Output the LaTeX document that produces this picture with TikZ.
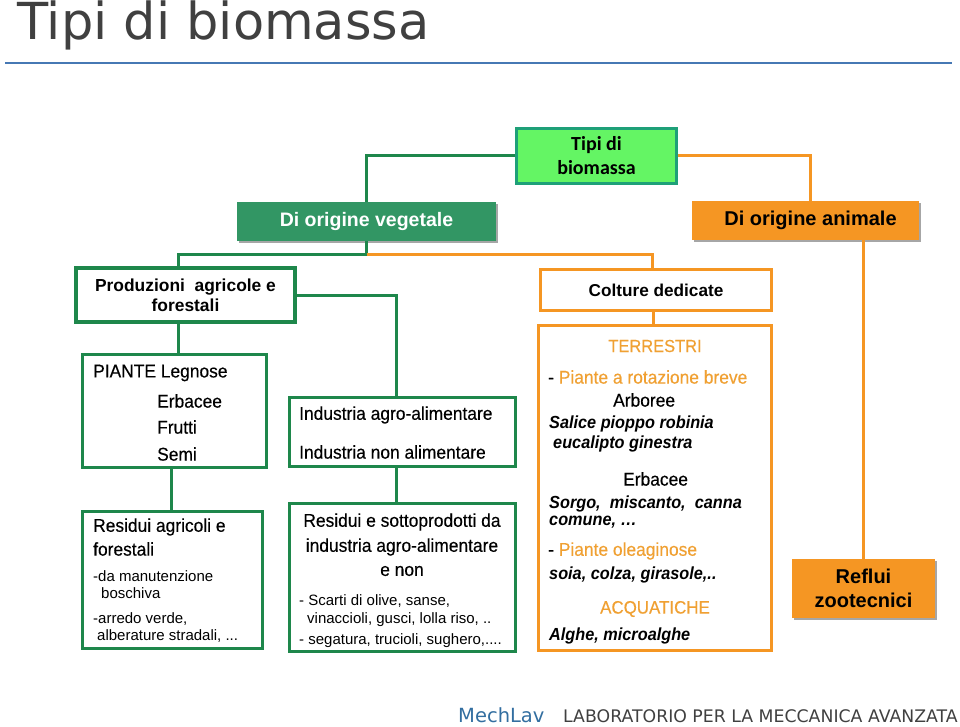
\documentclass[tikz,border=0pt]{standalone}
\usepackage{fontspec}
\setmainfont{Liberation Sans}
\newfontfamily\verdana{DejaVu Sans}
\newfontfamily\calib{Carlito}
\newfontfamily\nar[FakeStretch=0.94,FakeBold=0.3]{Liberation Sans}
\newfontfamily\nbi[FakeStretch=0.93]{Liberation Sans}
\usetikzlibrary{shadows}
\newcommand\fsz[2][]{\fontsize{#2}{#2}\selectfont}

\definecolor{gr}{RGB}{30,135,75}
\definecolor{vegfill}{RGB}{50,150,100}
\definecolor{topfill}{RGB}{100,245,100}
\definecolor{topline}{RGB}{30,160,120}
\definecolor{orng}{RGB}{245,150,35}
\definecolor{otxt}{RGB}{240,160,50}
\definecolor{ttl}{RGB}{64,64,64}
\definecolor{rulec}{RGB}{70,120,180}
\definecolor{mech}{RGB}{50,110,160}

\begin{document}
\begin{tikzpicture}[x=1pt,y=-1pt,
	gline/.style={draw=gr,line width=3pt},
	oline/.style={draw=orng,line width=3pt},
	gbox/.style={draw=gr,line width=3pt,fill=white,inner sep=0pt},
	obox/.style={draw=orng,line width=3pt,fill=white,inner sep=0pt},
	sbox/.style={inner sep=0pt,align=center,
		drop shadow={shadow xshift=2pt,shadow yshift=-2pt,opacity=.35,fill=black}},
	txt/.style={anchor=west,inner sep=0pt,font=\nar\fsz{18.5}},
	small/.style={anchor=west,inner sep=0pt,font=\fsz{15}},
	ital/.style={anchor=west,inner sep=0pt,font=\nbi\bfseries\itshape\fsz{17.5}}]
	\useasboundingbox (0,0) rectangle (960,727);
	\node[anchor=base west,inner sep=0pt,text=ttl,font=\verdana\fsz{51}] (title) at (17,40) {Tipi di biomassa};
	\draw[rulec,line width=1.5pt] (5,63) -- (952,63);

	\node[draw=topline,fill=topfill,line width=3pt,minimum width=160pt,minimum height=55pt,
		inner sep=0pt,align=center,font=\calib\bfseries\fontsize{20}{24}\selectfont] (top) at (596.5,156) {Tipi di\\biomassa};
	\node[sbox,fill=vegfill,text=white,minimum width=259pt,minimum height=39pt,
		font=\bfseries\fsz{19.5}] (veg) at (366.5,221.5) {Di origine vegetale};
	\node[sbox,fill=orng,minimum width=227pt,minimum height=39pt,
		font=\bfseries\fsz{20}] (ani) at (805.5,220.5) {\hspace{10pt}Di origine animale};

	\node[gbox,line width=4pt,minimum width=219pt,minimum height=54pt,align=center,
		font=\bfseries\fontsize{17.4}{20}\selectfont] (prod) at (185.5,295) {Produzioni\ \ agricole e\\forestali};
	\node[gbox,minimum width=184pt,minimum height=113pt] (piante) at (174.5,411) {};
	\node[gbox,minimum width=180pt,minimum height=137pt] (resa) at (172.5,580) {};
	\node[gbox,minimum width=226pt,minimum height=69pt] (ind) at (402.5,432) {};
	\node[gbox,minimum width=226pt,minimum height=148pt] (ress) at (402.5,577.5) {};
	\node[obox,minimum width=231pt,minimum height=41pt,font=\bfseries\fsz{17.2}] (colt) at (656,290) {Colture dedicate};
	\node[obox,minimum width=233pt,minimum height=325pt] (terr) at (655,488) {};
	\node[sbox,fill=orng,minimum width=143pt,minimum height=59pt,
		font=\bfseries\fontsize{20}{24}\selectfont] (refl) at (863.5,588.5) {Reflui\\zootecnici};

	\coordinate (vsplit) at (366.5,254);
	\draw[gline] (top.west) -| (veg.north);
	\draw[oline] (top.east) -| ([xshift=4.5pt]ani.north);
	\draw[gline] (veg.south) -- (vsplit) -| ([xshift=-7.5pt]prod.north);
	\draw[oline] (vsplit) -| ([xshift=-4pt]colt.north);
	\draw[gline] (prod.east) -| ([xshift=-6.5pt]ind.north);
	\draw[gline] ([xshift=-7.5pt]prod.south) -- ([xshift=-7.5pt]prod.south |- piante.north);
	\draw[gline] ([xshift=-3.5pt]piante.south) -- ([xshift=-3.5pt]piante.south |- resa.north);
	\draw[gline] ([xshift=-6.5pt]ind.south) -- ([xshift=-6.5pt]ind.south |- ress.north);
	\draw[oline] ([xshift=-3pt]colt.south) -- ([xshift=-3pt]colt.south |- terr.north);
	\draw[oline] (ani.south -| refl.north) -- (refl.north);

	\node[txt] (pleg) at (93,373) {PIANTE Legnose};
	\node[txt] (perb) at (157,401) {Erbacee};
	\node[txt] (pfru) at (157,427) {Frutti};
	\node[txt] (psem) at (157,454) {Semi};

	\node[txt] (iagro) at (299,415) {Industria agro-alimentare};
	\node[txt] (inon) at (299,452) {Industria non alimentare};

	\node[txt] (rag1) at (93,527) {Residui agricoli e};
	\node[txt] (rag2) at (93,549) {forestali};
	\node[small] (rag3) at (93,576) {-da manutenzione};
	\node[small] (rag4) at (101,593) {boschiva};
	\node[small] (rag5) at (93,619) {-arredo verde,};
	\node[small] (rag6) at (97,636) {alberature stradali, ...};

	\node[txt,anchor=center] (rs1) at (402,522) {Residui e sottoprodotti da};
	\node[txt,anchor=center] (rs2) at (402,547) {industria agro-alimentare};
	\node[txt,anchor=center] (rs3) at (402,571) {e non};
	\node[small] (rs4) at (299,601) {- Scarti di olive, sanse,};
	\node[small] (rs5) at (307,620) {vinaccioli, gusci, lolla riso, ..};
	\node[small] (rs6) at (299,641) {- segatura, trucioli, sughero,....};

	\node[txt,anchor=center,text=otxt,font=\nar\fsz{17.5}] (terrt) at (655,346) {TERRESTRI};
	\node[txt] (rotb) at (548,377) {- \textcolor{otxt}{Piante a rotazione breve}};
	\node[txt] (arbo) at (613,400) {Arboree};
	\node[ital] (sali) at (549,424) {Salice pioppo robinia};
	\node[ital] (euca) at (553,444) {eucalipto ginestra};
	\node[txt] (terb) at (623,479) {Erbacee};
	\node[ital] (sorg) at (549,504) {Sorgo,\ \ miscanto,\ \ canna};
	\node[ital] (comu) at (549,522) {comune, …};
	\node[txt] (olea) at (548,551) {- \textcolor{otxt}{Piante oleaginose}};
	\node[ital] (soia) at (549,575) {soia, colza, girasole,..};
	\node[txt,anchor=center,text=otxt,font=\nar\fsz{18}] (acqu) at (655,609) {ACQUATICHE};
	\node[ital] (algh) at (549,636) {Alghe, microalghe};

	\node[anchor=base west,inner sep=0pt,text=mech,font=\verdana\fsz{19.5}] (mlav) at (458,722) {MechLav};
	\node[anchor=base west,inner sep=0pt,text=ttl,font=\verdana\fsz{17.3}] (lab) at (563,722) {LABORATORIO PER LA MECCANICA AVANZATA};
\end{tikzpicture}
\end{document}
